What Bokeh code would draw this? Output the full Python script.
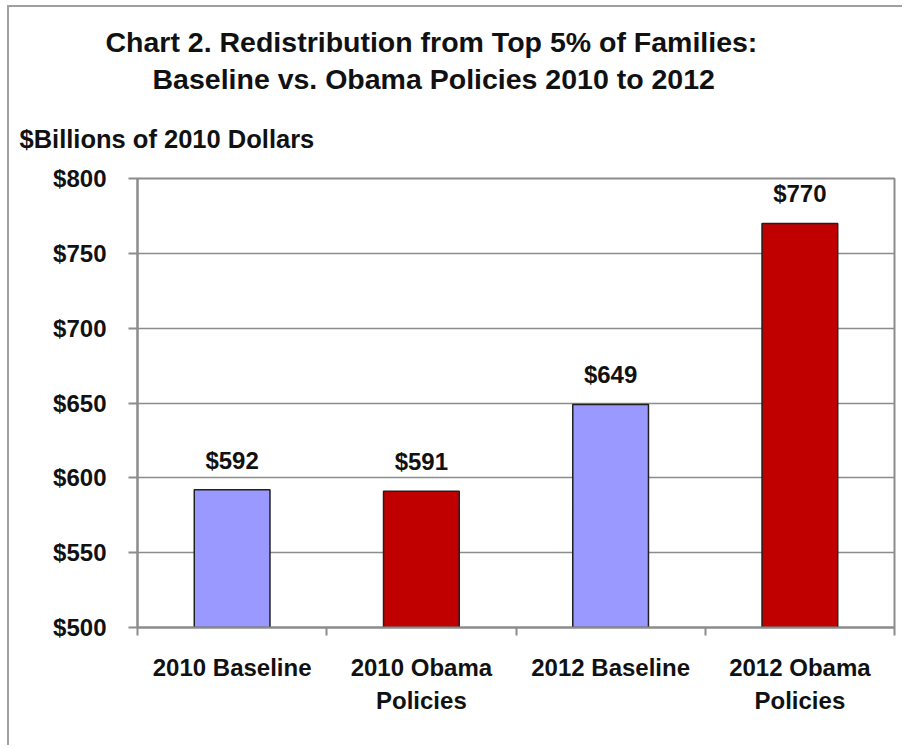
from bokeh.plotting import figure
from bokeh.models import (ColumnDataSource, Range1d, LinearAxis, Title,
                          FixedTicker, LabelSet, NumeralTickFormatter)
from bokeh.core.properties import value
from bokeh.embed import file_html
from bokeh.resources import INLINE

# ---- data ----
categories = ["2010 Baseline", "2010 Obama\nPolicies", "2012 Baseline", "2012 Obama\nPolicies"]
values = [592, 591, 649, 770]
bar_colors = ["#9999FF", "#C00000", "#9999FF", "#C00000"]
value_labels = ["$592", "$591", "$649", "$770"]
y_ticks = [500, 550, 600, 650, 700, 750, 800]
title_lines = ["Chart 2. Redistribution from Top 5% of Families:",
               "Baseline vs. Obama Policies 2010 to 2012"]
y_title = "$Billions of 2010 Dollars"

n = len(categories)
xpos = [i + 0.5 for i in range(n)]
src = ColumnDataSource(dict(x=xpos, cat=categories, val=values, color=bar_colors, lab=value_labels))

GRID = "#8c8c8c"
FONT = "Liberation Sans"
TXT = "#111111"

p = figure(width=895, height=740, output_backend="svg", toolbar_location=None,
           x_range=Range1d(0, n), y_range=Range1d(500, 800),
           x_axis_location=None, min_border_left=128, min_border_top=171,
           min_border_right=10, min_border_bottom=120)
p.styles = {"margin-left": "7px", "margin-top": "5px",
            "border-left": "2px solid #a0a0a0", "border-top": "2px solid #a0a0a0"}

p.vbar(x="x", top="val", bottom=500, width=0.4, source=src,
       fill_color="color", line_color="#202020", line_width=1.5)

# y axis
ya = p.yaxis[0]
ya.ticker = FixedTicker(ticks=y_ticks)
ya.formatter = NumeralTickFormatter(format="$0")
ya.major_label_text_font = FONT
ya.major_label_text_font_style = "bold"
ya.major_label_text_font_size = "24px"
ya.major_label_text_color = TXT
ya.axis_line_color = GRID
ya.axis_line_width = 2
ya.major_tick_line_color = GRID
ya.major_tick_line_width = 2
ya.major_tick_out = 9
ya.major_tick_in = 0
ya.minor_tick_line_color = None
ya.major_label_standoff = 22

# x axis: labels at category centres, (minor) ticks at category boundaries
xa = LinearAxis(ticker=FixedTicker(ticks=xpos, minor_ticks=list(range(n + 1))),
                major_label_overrides={x: c for x, c in zip(xpos, categories)},
                axis_line_color=GRID, axis_line_width=2,
                major_tick_line_color=None,
                minor_tick_line_color=GRID, minor_tick_line_width=2,
                minor_tick_out=8, minor_tick_in=0,
                major_label_text_font=FONT, major_label_text_font_style="bold",
                major_label_text_font_size="24px", major_label_text_color=TXT,
                major_label_standoff=18)
xa.major_label_text_line_height = 1.25
p.add_layout(xa, "below")

p.xgrid.grid_line_color = None
p.ygrid.ticker = FixedTicker(ticks=y_ticks)
p.ygrid.grid_line_color = GRID
p.ygrid.grid_line_width = 1.5
p.outline_line_color = GRID
p.outline_line_width = 2

# value labels
p.add_layout(LabelSet(x="x", y="val", text="lab", source=src, y_offset=21,
                      text_align="center", text_baseline="alphabetic",
                      text_font=value(FONT), text_font_style="bold", text_font_size="24px",
                      text_color=TXT))

# titles, stacked outward from the frame
p.add_layout(Title(text=y_title, align="left", offset=-118, standoff=52,
                   text_font=FONT, text_font_style="bold", text_font_size="25.5px",
                   text_color=TXT), "above")
p.add_layout(Title(text=title_lines[1], align="left", offset=15, standoff=4,
                   text_font=FONT, text_font_style="bold", text_font_size="28.5px",
                   text_color=TXT), "above")
p.add_layout(Title(text=title_lines[0], align="left", offset=-32, standoff=2,
                   text_font=FONT, text_font_style="bold", text_font_size="28.5px",
                   text_color=TXT), "above")

open("out.html", "w").write(file_html(p, INLINE))
